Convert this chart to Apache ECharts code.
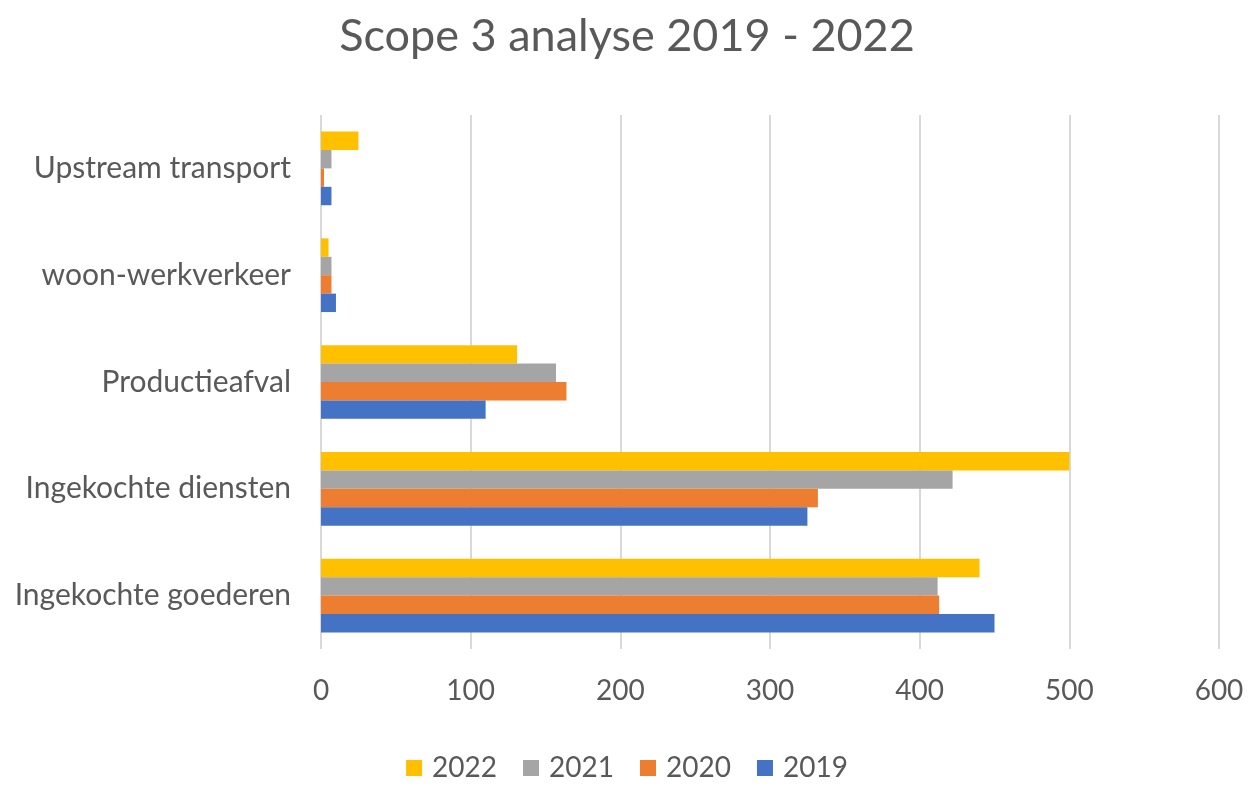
<!DOCTYPE html>
<html>
<head>
<meta charset="utf-8">
<script src="https://cdn.jsdelivr.net/npm/echarts@6/dist/echarts.min.js"></script>
<style>
  html, body { margin: 0; padding: 0; background: #fff; }
  #chart { width: 1254px; height: 787px; }
</style>
</head>
<body>
<div id="chart"></div>
<script>
// categories listed bottom to top, as the y axis draws them
const categories = ['Ingekochte goederen', 'Ingekochte diensten', 'Productieafval', 'woon-werkverkeer', 'Upstream transport'];
// series order = top-to-bottom order of bars inside each band
const years = ['2022', '2021', '2020', '2019'];
const v2019 = [450, 325, 110, 10, 7];
const v2020 = [413, 332, 164, 7, 2];
const v2021 = [412, 422, 157, 7, 7];
const v2022 = [440, 500, 131, 5, 25];
const xTicks = [0, 100, 200, 300, 400, 500, 600];

const COLORS = { '2019': '#4472C4', '2020': '#ED7D31', '2021': '#A5A5A5', '2022': '#FFC000' };
const TEXT = '#595959';
const FONT = 'Lato, "Open Sans", sans-serif';

const chart = echarts.init(document.getElementById('chart'), null, { renderer: 'canvas' });
const values = { '2019': v2019, '2020': v2020, '2021': v2021, '2022': v2022 };

chart.setOption({
  animation: false,
  textStyle: { fontFamily: FONT, color: TEXT },
  title: {
    text: 'Scope 3 analyse 2019 - 2022', left: 'center', top: 9,
    textStyle: { fontSize: 45, fontWeight: 'normal', color: TEXT, fontFamily: FONT },
  },
  legend: {
    data: years, bottom: 0, left: 'center',
    icon: 'rect', itemWidth: 16, itemHeight: 16, itemGap: 26,
    textStyle: { fontSize: 28, color: TEXT, fontFamily: FONT, padding: [0, 0, 0, 5] },
  },
  grid: { left: 321, right: 35, top: 115, bottom: 138 },
  xAxis: {
    type: 'value', min: xTicks[0], max: xTicks[xTicks.length - 1], interval: 100,
    axisLine: { show: false }, axisTick: { show: false },
    axisLabel: { fontSize: 28, color: TEXT, fontFamily: FONT, margin: 28 },
    splitLine: { lineStyle: { color: '#d9d9d9', width: 2 } },
  },
  yAxis: {
    type: 'category', data: categories,
    axisLine: { show: false }, axisTick: { show: false },
    axisLabel: { fontSize: 30, color: TEXT, fontFamily: FONT, margin: 30 },
  },
  series: years.map(y => ({
    name: y, type: 'bar', data: values[y],
    itemStyle: { color: COLORS[y] },
    barGap: '0%', barCategoryGap: '31%',
  })),
});
</script>
</body>
</html>
